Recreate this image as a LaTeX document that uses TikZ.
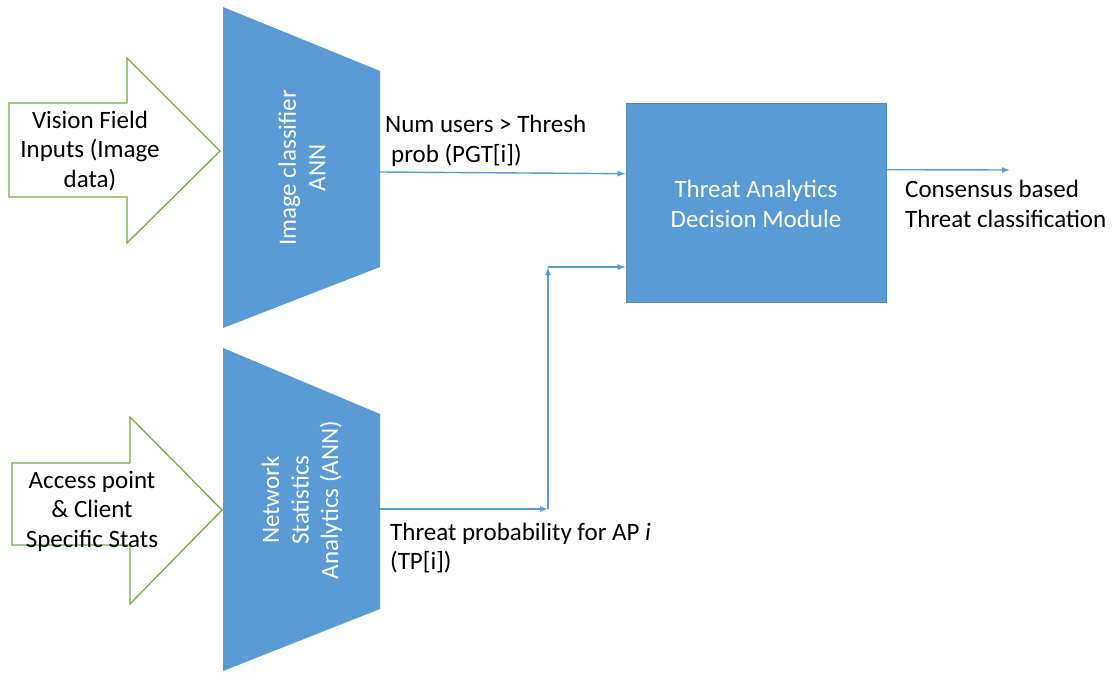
\documentclass[tikz,border=0pt]{standalone}
\usepackage{fontspec}
\setmainfont{Carlito}
\usetikzlibrary{arrows.meta,positioning}
\definecolor{annblue}{HTML}{5B9BD5}
\definecolor{ingreen}{HTML}{70AD47}

\begin{document}
\begin{tikzpicture}[x=1pt,y=-1pt,
		lbl/.style={font=\fontsize{25}{29.5}\selectfont,inner sep=0pt},
		wlbl/.style={lbl,text=white,align=center},
		inarrow/.style={draw=ingreen,line width=1.3pt,fill=white,line join=miter},
		annshape/.style={fill=annblue},
		dmbox/.style={fill=annblue,draw=annblue!90!black,line width=0.6pt,minimum width=260pt,minimum height=199pt,inner sep=0pt},
		flow/.style={draw=annblue,line width=1.4pt,-{Latex[length=8pt,width=6pt]}}]
		\useasboundingbox (0,0) rectangle (1115,672);
		% input arrows
		\draw[inarrow] (9,103) -- (127,103) -- (127,58) -- (220,151) -- (127,243) -- (127,197) -- (9,197) -- cycle;
		\node[lbl,align=center] (vision) at (90,151) {Vision Field\\Inputs (Image\\data)};
		\draw[inarrow] (12,463) -- (130,463) -- (130,417) -- (222,510) -- (130,604) -- (130,545) -- (12,545) -- cycle;
		\node[lbl,align=center] (access) at (92,511) {Access point\\\& Client\\Specific Stats};
		% the two ANN blocks
		\fill[annshape] (223,7) -- (380,71) -- (380,267) -- (223,328) -- cycle;
		\node[wlbl,rotate=90] (imgann) at (302,168) {Image classifier\\ANN};
		\fill[annshape] (223,348) -- (380,414) -- (380,609) -- (223,671) -- cycle;
		\node[wlbl,rotate=90] (netann) at (302,500) {Network\\Statistics\\Analytics (ANN)};
		\coordinate (imgout) at (380,172);
		\coordinate (netout) at (380,509);
		% decision module
		\node[dmbox] (tadm) at (756,202.5) {};
		\node[wlbl] (tadmtext) at (756,204) {Threat Analytics\\Decision Module};
		% connectors
		\coordinate (bend) at (548,509);
		\coordinate (up) at (548,267);
		\coordinate (result) at (1010,170);
		\draw[flow] (imgout) -- ([yshift=-71pt]tadm.north west);
		\draw[flow] (netout) -- (bend);
		\draw[flow] (bend) -- (up);
		\draw[flow] (up) -- (up -| tadm.west);
		\draw[flow] ([yshift=-67pt]tadm.north east) -- (result);
		% labels
		\node[lbl,align=left,anchor=west] (pgt) at (385,141) {Num users > Thresh\\\hspace{6pt}prob (PGT[i])};
		\node[lbl,align=left,anchor=west] (tp) at (390,548) {Threat probability for AP \textit{i}\\(TP[i])};
		\node[lbl,align=left,anchor=west] (cons) at (905,204) {Consensus based\\Threat classification};
	\end{tikzpicture}
\end{document}
